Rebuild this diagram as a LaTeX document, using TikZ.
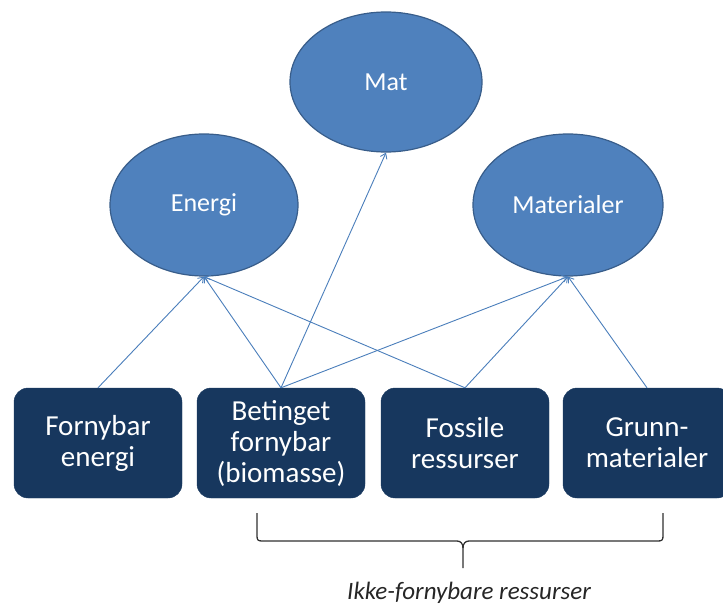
\documentclass[tikz,border=0pt]{standalone}
\usepackage{fontspec}
\setmainfont{Carlito}
\usetikzlibrary{shapes.geometric,arrows.meta}
\definecolor{ovalfill}{HTML}{4F81BD}
\definecolor{ovalline}{HTML}{385D8A}
\definecolor{boxfill}{HTML}{17375E}
\definecolor{linkcol}{HTML}{4A7EBB}
\definecolor{bracecol}{HTML}{303030}
\begin{document}
\begin{tikzpicture}[x=1pt,y=1pt,
  goal/.style={ellipse, draw=ovalline, line width=1.2pt, fill=ovalfill,
    inner sep=0pt, text=white, font=\fontsize{26}{28}\selectfont},
  resource/.style={rectangle, rounded corners=14pt, fill=boxfill, draw=boxfill,
    minimum width=168pt, minimum height=110pt, inner sep=0pt, align=center,
    text=white, font=\fontsize{29}{31}\selectfont},
  link/.style={draw=linkcol, line width=0.9pt,
    -{Straight Barb[length=5pt,width=7pt]}}]
\useasboundingbox (0,0) rectangle (723,606);

% goals
\node[goal, minimum width=192pt, minimum height=140pt] (mat) at (386,524) {Mat};
\node[goal, minimum width=188pt, minimum height=142pt] (energi) at (204,401) {Energi};
\node[goal, minimum width=190pt, minimum height=142pt] (materialer) at (568,401) {Materialer};

% resources
\node[resource] (fe) at (98,163) {Fornybar\\energi};
\node[resource] (bf) at (281,163) {Betinget\\fornybar\\(biomasse)};
\node[resource] (fr) at (465,163) {Fossile\\ressurser};
\node[resource] (gm) at (647,163) {Grunn-\\materialer};

% links
\draw[link] (fe.north) -- (energi.south);
\draw[link] (bf.north) -- (energi.south);
\draw[link] (bf.north) -- (mat.south);
\draw[link] (bf.north) -- (materialer.south);
\draw[link] (fr.north) -- (energi.south);
\draw[link] (fr.north) -- (materialer.south);
\draw[link] (gm.north) -- (materialer.south);

% brace over the non-renewable resources
\coordinate (bl) at (257,93);
\coordinate (br) at (663,93);
\coordinate (tip) at (463,38);
\draw[bracecol, line width=1.3pt]
  (bl) -- (257,70) .. controls (257,66) and (258,65) .. (262,65) -- (457,65)
  .. controls (461,65) and (463,62) .. (463,58) -- (tip);
\draw[bracecol, line width=1.3pt]
  (br) -- (663,70) .. controls (663,66) and (662,65) .. (658,65) -- (469,65)
  .. controls (465,65) and (463,62) .. (463,58);
\node[font=\fontsize{25}{27}\selectfont\itshape, text=black!85] (label) at (469,13) {Ikke-fornybare ressurser};
\end{tikzpicture}
\end{document}
